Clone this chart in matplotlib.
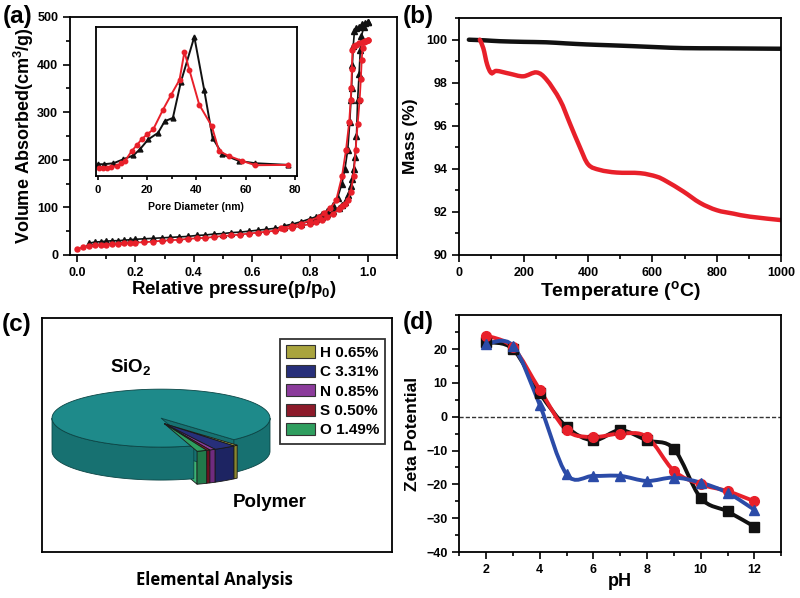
import numpy as np
import matplotlib
matplotlib.use('Agg')
import matplotlib.pyplot as plt
from matplotlib.path import Path
from matplotlib.patches import PathPatch, Polygon, Patch
from matplotlib.ticker import MultipleLocator, FormatStrFormatter

plt.rcParams['font.family'] = ['Liberation Sans', 'DejaVu Sans']
plt.rcParams['font.weight'] = 'bold'
plt.rcParams['mathtext.fontset'] = 'custom'
plt.rcParams['mathtext.rm'] = 'Liberation Sans:bold'
plt.rcParams['mathtext.it'] = 'Liberation Sans:bold'
plt.rcParams['mathtext.bf'] = 'Liberation Sans:bold'

# ---- (a) N2 isotherms ----
blk_ads_p = [0.04, 0.06, 0.08, 0.10, 0.12, 0.14, 0.16, 0.18, 0.20, 0.23, 0.26, 0.29, 0.32, 0.35,
             0.38, 0.41, 0.44, 0.47, 0.50, 0.53, 0.56, 0.59, 0.62, 0.65, 0.68, 0.71, 0.74, 0.77,
             0.80, 0.82, 0.84, 0.86, 0.88, 0.90, 0.91, 0.92, 0.93, 0.94, 0.945, 0.95, 0.955,
             0.96, 0.964, 0.969, 0.973, 0.977, 0.985, 1.0]
blk_ads_v = [25, 27, 28, 29, 30, 30, 31, 32, 33, 34, 35, 36, 37, 38, 39, 41, 42, 44, 45, 47, 48,
             50, 52, 54, 56, 59, 62, 66, 71, 75, 80, 86, 92, 99, 104, 112, 125, 145, 160, 180,
             205, 250, 326, 380, 430, 460, 478, 490]
blk_des_p = [1.0, 0.99, 0.98, 0.97, 0.96, 0.953, 0.949, 0.946, 0.943, 0.941, 0.937, 0.93, 0.92,
             0.91, 0.895, 0.88, 0.86, 0.84, 0.82, 0.80, 0.77, 0.74, 0.71]
blk_des_v = [490, 488, 485, 480, 476, 470, 440, 400, 350, 326, 280, 221, 180, 150, 120, 104, 93,
             86, 80, 76, 70, 65, 61]
red_ads_p = [0.0, 0.02, 0.04, 0.06, 0.08, 0.10, 0.12, 0.14, 0.16, 0.18, 0.20, 0.23, 0.26, 0.29,
             0.32, 0.35, 0.38, 0.41, 0.44, 0.47, 0.50, 0.53, 0.56, 0.59, 0.62, 0.65, 0.68, 0.71,
             0.74, 0.77, 0.80, 0.82, 0.84, 0.86, 0.88, 0.90, 0.91, 0.92, 0.93, 0.94, 0.95, 0.957,
             0.964, 0.971, 0.975, 0.978, 0.981, 0.986, 0.993, 1.0]
red_ads_v = [13, 16, 18, 20, 21, 22, 23, 24, 25, 25, 26, 27, 28, 30, 31, 32, 34, 35, 36, 38, 40,
             41, 43, 45, 47, 49, 51, 54, 57, 61, 65, 69, 74, 80, 87, 96, 102, 108, 116, 132, 165,
             221, 275, 326, 370, 410, 435, 447, 450, 452]
red_des_p = [1.0, 0.99, 0.982, 0.97, 0.96, 0.95, 0.946, 0.944, 0.942, 0.94, 0.935, 0.924, 0.91,
             0.89, 0.87, 0.85, 0.83, 0.80, 0.77, 0.74, 0.70]
red_des_v = [452, 450, 448, 445, 442, 440, 430, 390, 350, 326, 280, 221, 165, 115, 98, 88, 80,
             72, 66, 61, 57]

# inset: pore size distribution (arbitrary units)
blk_pd_x = [0, 2.4, 6.4, 10.4, 14.5, 17.1, 20.5, 24.5, 27.2, 30.5, 33.8, 39.2, 43.2, 46.6, 50.6,
            57.3, 64, 77.3]
blk_pd_y = [35, 35, 38, 50, 62, 80, 110, 130, 165, 175, 285, 420, 260, 115, 65, 45, 38, 33]
red_pd_x = [0.4, 2.0, 3.7, 5.5, 7.8, 9.5, 11.1, 13.8, 15.8, 17.8, 20.0, 22.5, 26.5, 29.8, 33.2,
            35.2, 37.2, 41.2, 46.3, 49.2, 53.2, 58.6, 64, 77.3]
red_pd_y = [25, 24, 23, 26, 30, 38, 45, 75, 92, 110, 125, 140, 200, 245, 290, 375, 320, 215, 150,
            75, 60, 45, 32, 33]

# ---- (b) TGA ----
tga_blk_t = [30, 80, 126, 200, 270, 330, 396, 470, 541, 620, 696, 800, 900, 1000]
tga_blk_m = [100.0, 99.97, 99.93, 99.9, 99.88, 99.83, 99.78, 99.74, 99.7, 99.65, 99.61, 99.6,
             99.59, 99.58]
tga_red_t = [64, 75, 87, 100, 116, 157, 199, 240, 271, 313, 344, 375, 401, 437, 489, 562, 613,
             644, 696, 748, 800, 852, 903, 1000]
tga_red_m = [100.0, 99.6, 98.84, 98.45, 98.55, 98.42, 98.3, 98.48, 98.15, 97.2, 96.1, 95.0, 94.2,
             93.95, 93.83, 93.8, 93.64, 93.42, 92.95, 92.42, 92.08, 91.92, 91.78, 91.62]

# ---- (c) elemental analysis ----
elements = ['H', 'C', 'N', 'S', 'O']
elem_pct = [0.65, 3.31, 0.85, 0.50, 1.49]
elem_top = ['#A9A43E', '#272F7A', '#8B3B9B', '#8C1A2A', '#2F9E5F']
elem_side = ['#8A862F', '#1D2462', '#6F2B7E', '#6C1020', '#21794A']

# ---- (d) zeta potential ----
ph = [2, 3, 4, 5, 6, 7, 8, 9, 10, 11, 12]
zeta_blk = [22, 20, 7, -3, -7, -4, -7, -9.5, -24, -28, -32.5]
zeta_red = [24, 20.5, 8, -4, -6, -5, -6, -16, -20, -22, -25]
zeta_blu = [21.5, 21, 3.5, -17, -17.5, -17.5, -19, -18, -19.5, -22.5, -27.5]

BLACK = '#111111'
RED = '#E8202A'
BLUE = '#2B4BA8'

fig = plt.figure(figsize=(8, 5.98), dpi=100)


def style_axes(ax, fs=9):
    ax.tick_params(which='both', direction='out', top=False, right=False, labelsize=fs,
                   width=1.2)
    ax.tick_params(which='major', length=5)
    ax.tick_params(which='minor', length=3)
    for s in ax.spines.values():
        s.set_linewidth(1.3)
    for lab in ax.get_xticklabels() + ax.get_yticklabels():
        lab.set_fontweight('bold')


def smooth_path(x, y):
    pts = np.column_stack([x, y]).astype(float)
    ext = np.vstack([pts[0], pts, pts[-1]])
    verts = [pts[0]]
    codes = [Path.MOVETO]
    for i in range(1, len(ext) - 2):
        p0, p1, p2, p3 = ext[i - 1], ext[i], ext[i + 1], ext[i + 2]
        verts += [p1 + (p2 - p0) / 6.0, p2 - (p3 - p1) / 6.0, p2]
        codes += [Path.CURVE4] * 3
    return Path(verts, codes)


# ---------------- (a) ----------------
axa = fig.add_axes([0.0875, 0.5736, 0.409, 0.398])
axa.plot(blk_ads_p, blk_ads_v, '-^', color=BLACK, ms=4, lw=1.2)
axa.plot(blk_des_p, blk_des_v, '-^', color=BLACK, ms=4, lw=1.2)
axa.plot(red_ads_p, red_ads_v, '-o', color=RED, ms=3.6, lw=1.3)
axa.plot(red_des_p, red_des_v, '-o', color=RED, ms=3.6, lw=1.3)
axa.set_xlim(-0.025, 1.1)
axa.set_ylim(0, 500)
axa.xaxis.set_major_locator(MultipleLocator(0.2))
axa.xaxis.set_minor_locator(MultipleLocator(0.1))
axa.yaxis.set_major_locator(MultipleLocator(100))
axa.yaxis.set_minor_locator(MultipleLocator(50))
axa.xaxis.set_major_formatter(FormatStrFormatter('%.1f'))
style_axes(axa)
axa.set_xlabel(r'Relative pressure(p/p$_0$)', fontsize=13.5, fontweight='bold', labelpad=0)
axa.set_ylabel(r'Volume Absorbed(cm$^3$/g)', fontsize=13, fontweight='bold', labelpad=1)

axi = fig.add_axes([0.12, 0.706, 0.251, 0.249])
axi.plot(blk_pd_x, blk_pd_y, '-^', color=BLACK, ms=3.5, lw=1.4)
axi.plot(red_pd_x, red_pd_y, '-o', color=RED, ms=3.2, lw=1.4)
axi.set_xlim(-0.7, 80.8)
axi.set_ylim(0, 450)
axi.set_yticks([])
axi.xaxis.set_major_locator(MultipleLocator(20))
axi.xaxis.set_minor_locator(MultipleLocator(10))
style_axes(axi, fs=8)
axi.tick_params(which='major', length=3)
axi.tick_params(which='minor', length=2)
axi.set_xlabel('Pore Diameter (nm)', fontsize=7.5, fontweight='bold', labelpad=5)

# ---------------- (b) ----------------
axb = fig.add_axes([0.574, 0.5736, 0.4025, 0.396])
axb.add_patch(PathPatch(smooth_path(tga_blk_t, tga_blk_m), fc='none', ec=BLACK, lw=3.2,
                        capstyle='round'))
axb.add_patch(PathPatch(smooth_path(tga_red_t, tga_red_m), fc='none', ec=RED, lw=3.2,
                        capstyle='round'))
axb.set_xlim(0, 1000)
axb.set_ylim(90, 101)
axb.xaxis.set_major_locator(MultipleLocator(200))
axb.xaxis.set_minor_locator(MultipleLocator(100))
axb.yaxis.set_major_locator(MultipleLocator(2))
axb.yaxis.set_minor_locator(MultipleLocator(1))
style_axes(axb)
axb.set_xlabel(r'Temperature ($^o$C)', fontsize=14, fontweight='bold', labelpad=0)
axb.set_ylabel('Mass (%)', fontsize=12.5, fontweight='bold', labelpad=6)

# ---------------- (c) ----------------
axc = fig.add_axes([0.0525, 0.0769, 0.4375, 0.391])
axc.set_xlim(42, 392)
axc.set_ylim(552, 318)
axc.set_xticks([])
axc.set_yticks([])
for s in axc.spines.values():
    s.set_linewidth(1.3)

cx, cy, ra, rb, depth = 161.0, 418.0, 109.0, 29.0, 33.0
poly_total = sum(elem_pct)
sio2_pct = 100.0 - poly_total
poly_start = 48.0
poly_span = poly_total / 100.0 * 360.0
sio2_t0 = poly_start + poly_span
sio2_t1 = poly_start + sio2_pct / 100.0 * 360.0 + poly_span


def ell(t, dx=0.0, dy=0.0):
    r = np.radians(t)
    return np.column_stack([cx + ra * np.cos(r) + dx, cy + rb * np.sin(r) + dy])


def front_parts(t0, t1):
    parts = []
    for k in (0.0, 360.0):
        s0, s1 = max(t0, k), min(t1, k + 180.0)
        if s1 > s0:
            parts.append((s0, s1))
    return parts


def wall(t0, t1, dx, dy, color, ec):
    for s0, s1 in front_parts(t0, t1):
        ts = np.linspace(s0, s1, 80)
        top = ell(ts, dx, dy)
        bot = ell(ts[::-1], dx, dy + depth)
        axc.add_patch(Polygon(np.vstack([top, bot]), closed=True, fc=color, ec=ec, lw=0.6))


def cut_face(t, dx, dy, color, ec):
    p = ell([t], dx, dy)[0]
    c = np.array([cx + dx, cy + dy])
    quad = [c, p, p + [0, depth], c + [0, depth]]
    axc.add_patch(Polygon(quad, closed=True, fc=color, ec=ec, lw=0.6))


def top_face(t0, t1, dx, dy, color, ec):
    ts = np.linspace(t0, t1, 200)
    pts = np.vstack([[cx + dx, cy + dy], ell(ts, dx, dy)])
    axc.add_patch(Polygon(pts, closed=True, fc=color, ec=ec, lw=0.6))


TEAL_TOP, TEAL_SIDE, TEAL_EDGE = '#1E8A8A', '#177171', '#0B4545'
tm = np.radians(poly_start + poly_span / 2)
ex, ey = 0.06 * ra * np.cos(tm), 0.1 * rb * np.sin(tm) + 3
bounds = poly_start + np.concatenate([[0], np.cumsum(elem_pct)]) / 100.0 * 360.0

# the wedge face turned towards SiO2 is mostly hidden by the SiO2 body
cut_face(bounds[-1], ex, ey, '#3DB274', '#1a1a1a')
cut_face(sio2_t1, 0, 0, TEAL_SIDE, TEAL_EDGE)
wall(sio2_t0, sio2_t1, 0, 0, TEAL_SIDE, TEAL_EDGE)
top_face(sio2_t0, sio2_t1, 0, 0, TEAL_TOP, TEAL_EDGE)

for i in range(len(elements)):
    wall(bounds[i], bounds[i + 1], ex, ey, elem_side[i], '#1a1a1a')
for i in range(len(elements)):
    top_face(bounds[i], bounds[i + 1], ex, ey, elem_top[i], '#1a1a1a')

axc.text(131, 367, 'SiO$_2$', fontsize=13.5, fontweight='bold', ha='center', va='center')
axc.text(270, 502, 'Polymer', fontsize=13.5, fontweight='bold', ha='center', va='center')

handles = [Patch(fc=elem_top[i], ec='#333333', lw=0.8) for i in range(len(elements))]
labels = [f'{e} {p:.2f}%' for e, p in zip(elements, elem_pct)]
leg = axc.legend(handles, labels, loc='upper right', bbox_to_anchor=(0.98, 0.91),
                 frameon=True, fancybox=False, edgecolor='black',
                 handlelength=1.9, handleheight=0.85, labelspacing=0.33, handletextpad=0.3,
                 borderpad=0.4, borderaxespad=0.0, prop={'weight': 'bold', 'size': 11})
leg.get_frame().set_linewidth(1.3)
fig.text(214 / 800, 1 - 580 / 598, 'Elemental Analysis', fontsize=12, fontweight='bold',
         ha='center', va='center', family=['Open Sans', 'DejaVu Sans'])

# ---------------- (d) ----------------
axd = fig.add_axes([0.574, 0.0769, 0.4025, 0.396])
axd.axhline(0, color='#333333', lw=1.0, ls=(0, (3, 1.5)), zorder=1)
for ys, col, mk in [(zeta_blk, BLACK, 's'), (zeta_red, RED, 'o'), (zeta_blu, BLUE, '^')]:
    axd.add_patch(PathPatch(smooth_path(ph, ys), fc='none', ec=col, lw=2.8, zorder=2))
    axd.plot(ph, ys, mk, color=col, ms=7, ls='none', zorder=3)
axd.set_xlim(1, 13)
axd.set_ylim(-40, 30)
axd.xaxis.set_major_locator(MultipleLocator(2))
axd.xaxis.set_minor_locator(MultipleLocator(1))
axd.yaxis.set_minor_locator(MultipleLocator(5))
axd.set_yticks([-40, -30, -20, -10, 0, 10, 20])
style_axes(axd)
axd.set_xlabel('pH', fontsize=13, fontweight='bold', labelpad=-2)
axd.set_ylabel('Zeta Potential', fontsize=12.5, fontweight='bold', labelpad=4)

# panel labels
for lab, x, y in [('(a)', 3, 17), ('(b)', 403, 16), ('(c)', 2, 325), ('(d)', 403, 322)]:
    fig.text(x / 800, 1 - y / 598, lab, fontsize=17.5, fontweight='bold', ha='left', va='center')

fig.savefig('out.png', dpi=100)
